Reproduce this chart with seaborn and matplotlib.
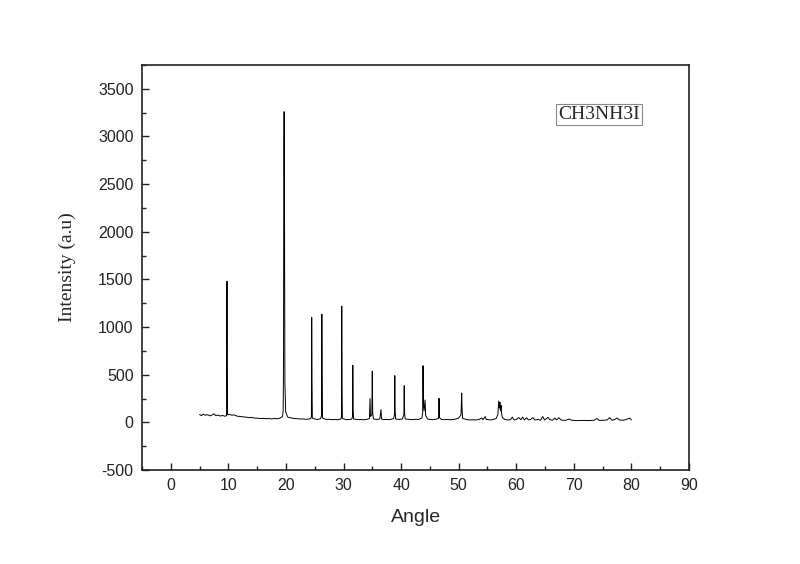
import numpy as np
import pandas as pd
import matplotlib
matplotlib.use("Agg")
import matplotlib.pyplot as plt
import seaborn as sns

# XRD pattern of CH3NH3I, vertices
two_theta = [
    5.0, 5.3, 5.6, 6.0, 6.4, 6.8, 7.2, 7.5, 7.8, 8.2, 8.6, 9.0, 9.4,
    9.68, 9.72, 9.76, 9.80, 9.86,
    10.2, 10.6, 11.0, 11.5, 12.0, 12.5, 13.0, 13.5, 14.0, 14.5, 15.0, 15.5,
    16.0, 16.5, 17.0, 17.5, 18.0, 18.5, 19.0, 19.4,
    19.52, 19.58, 19.63, 19.68, 19.72, 19.76, 19.82, 19.95,
    20.3, 20.6, 21.0, 21.5, 22.0, 22.5, 23.0, 23.5, 24.0, 24.3,
    24.42, 24.47, 24.52, 24.58,
    25.0, 25.5, 26.0,
    26.18, 26.23, 26.28, 26.34,
    27.0, 27.5, 28.0, 28.5, 29.0, 29.55,
    29.64, 29.69, 29.74, 29.80,
    30.5, 31.0, 31.45,
    31.56, 31.61, 31.66, 31.74,
    32.5, 33.0, 33.5, 34.0, 34.5,
    34.6, 34.68, 34.92, 34.99, 35.06, 35.2,
    35.8, 36.3, 36.5, 36.6, 37.0, 37.5, 38.0, 38.7,
    38.84, 38.9, 38.96, 39.06,
    39.6, 40.2, 40.48, 40.54, 40.6, 40.7,
    41.5, 42.0, 42.5, 43.0, 43.6,
    43.74, 43.8, 43.87, 43.98, 44.16, 44.26,
    44.6, 45.0, 45.5, 46.0, 46.5,
    46.58, 46.66,
    47.0, 47.5, 48.0, 48.5, 49.0, 49.5, 50.0, 50.4,
    50.52, 50.58, 50.68,
    51.5, 52.0, 52.5, 53.0, 53.5, 54.0, 54.2, 54.6, 54.8,
    55.5, 56.0, 56.5, 56.8, 56.95, 57.05, 57.15, 57.25, 57.35, 57.45, 57.6,
    58.0, 58.5, 59.0, 59.3, 59.6, 60.0, 60.4, 60.8, 61.1, 61.4, 61.8, 62.1,
    62.5, 62.9, 63.2, 63.8, 64.2, 64.6, 64.9, 65.5, 65.8, 66.3, 66.7, 67.0,
    67.4, 67.8, 68.5, 69.2, 69.6, 70.5, 71.5, 72.5, 73.5, 74.0, 74.4, 75.2,
    75.8, 76.2, 76.6, 77.0, 77.5, 77.9, 78.5, 79.0, 79.7, 80.0,
]
intensity = [
    82, 70, 85, 75, 80, 68, 78, 90, 70, 76, 66, 72, 64,
    70, 900, 1480, 600, 80,
    82, 75, 78, 65, 62, 58, 55, 50, 52, 45, 44, 40,
    42, 38, 40, 36, 40, 38, 45, 60,
    120, 700, 2840, 3260, 2840, 1680, 400, 110,
    55, 50, 45, 40, 38, 35, 36, 32, 35, 40,
    60, 1100, 500, 45,
    35, 30, 38,
    70, 1135, 500, 45,
    30, 32, 28, 30, 27, 35,
    60, 1220, 400, 40,
    28, 30, 35,
    60, 598, 150, 35,
    28, 30, 27, 30, 40,
    250, 60, 80, 538, 100, 35,
    30, 35, 133, 35, 28, 30, 28, 40,
    80, 490, 120, 35,
    30, 35, 80, 385, 100, 35,
    30, 28, 32, 30, 45,
    100, 594, 200, 120, 234, 70,
    35, 30, 28, 32, 40,
    252, 50,
    30, 28, 30, 27, 30, 35, 45, 80,
    308, 150, 40,
    28, 25, 27, 25, 30, 45, 28, 60, 30,
    25, 30, 40, 80, 224, 150, 210, 120, 180, 90, 50,
    30, 25, 28, 55, 25, 28, 50, 28, 55, 25, 48, 25,
    30, 50, 25, 30, 22, 60, 25, 52, 28, 22, 45, 25,
    48, 24, 20, 35, 22, 18, 20, 18, 22, 40, 20, 22,
    25, 50, 22, 28, 45, 25, 22, 28, 45, 25,
]

df = pd.DataFrame({"angle": two_theta, "intensity": intensity})

sns.set_style("ticks")
plt.rcParams["font.family"] = ["Liberation Sans", "DejaVu Sans"]
plt.rcParams["axes.unicode_minus"] = False

fig = plt.figure(figsize=(8, 5.64), dpi=100)
ax = fig.add_axes([0.1775, 0.1667, 0.6838, 0.7181])

sns.lineplot(data=df, x="angle", y="intensity", color="black",
             linewidth=0.7, estimator=None, sort=False, ax=ax)

ax.set_xlim(-5, 90)
ax.set_ylim(-500, 3750)
ax.set_xticks(np.arange(0, 91, 10))
ax.set_xticks(np.arange(-5, 90, 5), minor=True)
ax.set_yticks(np.arange(-500, 3501, 500))
ax.set_yticks(np.arange(-500, 3751, 250), minor=True)

ax.tick_params(which="both", direction="in", top=False, right=False,
               width=1, colors="#222222", labelsize=11.5, pad=6)
ax.tick_params(which="major", length=5)
ax.tick_params(which="minor", length=3)
for sp in ax.spines.values():
    sp.set_linewidth(1.2)
    sp.set_color("#222222")

ax.set_xlabel("Angle", fontsize=14, family=["Liberation Sans", "DejaVu Sans"])
ax.set_ylabel("Intensity (a.u)", fontsize=14,
              family=["Liberation Serif", "DejaVu Serif"])
ax.xaxis.set_label_coords(0.5, -0.096)
ax.yaxis.set_label_coords(-0.121, 0.5)

ax.text(0.835, 0.878, "CH3NH3I", transform=ax.transAxes, ha="center",
        va="center", fontsize=14, family=["Liberation Serif", "DejaVu Serif"],
        bbox=dict(boxstyle="square,pad=0.1", facecolor="white",
                  edgecolor="#888888", linewidth=0.8))

fig.savefig("out.png", dpi=100)
